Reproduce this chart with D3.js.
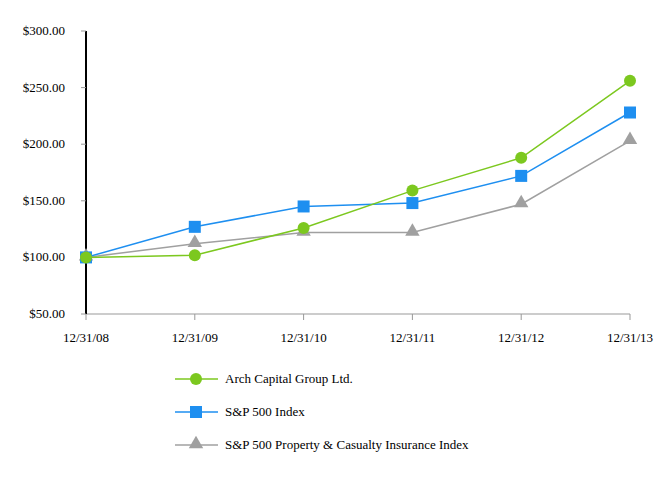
<!DOCTYPE html>
<meta charset="utf-8">
<script src="https://d3js.org/d3.v7.min.js"></script>
<style>body{margin:0;background:#fff}text{font-family:"Liberation Serif",serif;font-size:13px;fill:#000}</style>
<div id="chart"></div>
<script>
var dates = ["12/31/08","12/31/09","12/31/10","12/31/11","12/31/12","12/31/13"];
var arch = [100, 102, 126, 159, 188, 256];
var sp500 = [100, 127, 145, 148, 172, 228];
var pc = [100, 112, 122, 122, 147, 203];
var yTicks = [50, 100, 150, 200, 250, 300];

var svg = d3.select("#chart").append("svg").attr("width", 661).attr("height", 480);
var x = d3.scalePoint().domain(dates).range([86, 630]);
var y = d3.scaleLinear().domain([50, 300]).range([314, 31]);

// x axis
svg.append("line").attr("x1", 86).attr("x2", 630).attr("y1", 314).attr("y2", 314).attr("stroke", "#999");
dates.forEach(function(d){
  svg.append("line").attr("x1", x(d)).attr("x2", x(d)).attr("y1", 314).attr("y2", 320).attr("stroke", "#999");
  svg.append("text").attr("x", x(d)).attr("y", 342).attr("text-anchor", "middle").text(d);
});
// y axis
svg.append("line").attr("x1", 86).attr("x2", 86).attr("y1", 31).attr("y2", 314).attr("stroke", "#000").attr("stroke-width", 2);
yTicks.forEach(function(t){
  svg.append("line").attr("x1", 81).attr("x2", 86).attr("y1", y(t)).attr("y2", y(t)).attr("stroke", "#999");
  svg.append("text").attr("x", 65).attr("y", y(t) + 4).attr("text-anchor", "end").text("$" + t.toFixed(2));
});

var series = [
  {name: "Arch Capital Group Ltd.", values: arch, color: "#7cc81f", shape: "circle"},
  {name: "S&P 500 Index", values: sp500, color: "#1e8ff0", shape: "square"},
  {name: "S&P 500 Property & Casualty Insurance Index", values: pc, color: "#a0a0a0", shape: "triangle"}
];
var line = d3.line().x(function(d, i){ return x(dates[i]); }).y(function(d){ return y(d); });
function marker(g, s, cx, cy){
  if (s.shape == "circle") g.append("circle").attr("cx", cx).attr("cy", cy).attr("r", 6).attr("fill", s.color);
  else if (s.shape == "square") g.append("rect").attr("x", cx - 6).attr("y", cy - 6).attr("width", 12).attr("height", 12).attr("fill", s.color);
  else g.append("path").attr("d", d3.symbol(d3.symbolTriangle, 90)()).attr("transform", "translate(" + cx + "," + (cy - 1) + ")").attr("fill", s.color);
}
// draw back to front: gray, blue, green
series.slice().reverse().forEach(function(s){
  var g = svg.append("g");
  g.append("path").attr("d", line(s.values)).attr("fill", "none").attr("stroke", s.color).attr("stroke-width", 1.5);
  s.values.forEach(function(v, i){ marker(g, s, x(dates[i]), y(v)); });
});
// legend
series.forEach(function(s, i){
  var ly = 379 + i * 33;
  var g = svg.append("g");
  g.append("line").attr("x1", 175).attr("x2", 218).attr("y1", ly).attr("y2", ly).attr("stroke", s.color).attr("stroke-width", 1.5);
  marker(g, s, 196, ly);
  g.append("text").attr("x", 225).attr("y", ly + 4).text(s.name);
});
</script>
